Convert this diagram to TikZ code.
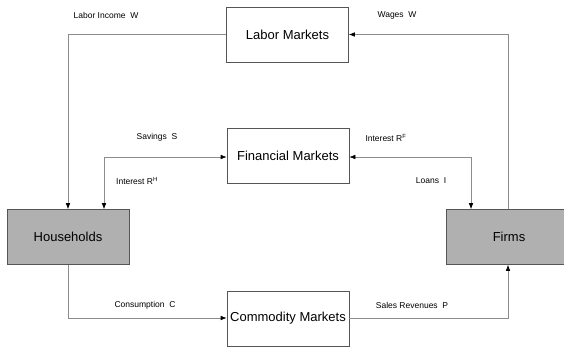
\documentclass[tikz,border=0pt]{standalone}
\usepackage{fontspec}
\setmainfont{Liberation Sans}
\usetikzlibrary{arrows.meta}
\definecolor{boxgray}{RGB}{176,176,176}
\definecolor{linegray}{RGB}{140,140,140}
\definecolor{edgegray}{RGB}{85,85,85}
\begin{document}
\begin{tikzpicture}[x=1pt,y=-1pt,
  market/.style={draw=edgegray, line width=0.6pt, fill=white, minimum width=122pt, minimum height=55pt, inner sep=0pt, font=\fontsize{13}{15}\selectfont},
  agent/.style={market, fill=boxgray},
  flow/.style={draw=linegray, line width=0.6pt},
  tipb/.style={-{Latex[length=6pt,width=4.5pt,black]}},
  both/.style={{Latex[length=6pt,width=4.5pt,black]}-{Latex[length=6pt,width=4.5pt,black]}},
  lab/.style={font=\fontsize{8.5}{10}\selectfont, inner sep=0pt}]
\useasboundingbox (0,0) rectangle (564,348);
\fill[white] (0,0) rectangle (564,348);
\node[market] (LM) at (287.5,34.5) {Labor Markets};
\node[market] (FM) at (288,155.5) {Financial Markets};
\node[market] (CM) at (288,318.5) {Commodity Markets};
\node[agent] (HH) at (68,237) {Households};
\node[agent, minimum width=126pt] (FI) at (509,237) {Firms};
\coordinate (c1) at (68,34.5);
\coordinate (c2) at (508,34.5);
\coordinate (c3) at (104,157);
\coordinate (c4) at (471,157);
\coordinate (c5) at (68,318);
\coordinate (c6) at (508,318);
\draw[flow,tipb] (LM.west |- c1) -- (c1) -- (c1 |- HH.north);
\draw[flow,tipb] (c2 |- FI.north) -- (c2) -- (LM.east |- c2);
\draw[flow,both] (c3 |- HH.north) -- (c3) -- (FM.west |- c3);
\draw[flow,both] (FM.east |- c4) -- (c4) -- (c4 |- FI.north);
\draw[flow,tipb] (c5 |- HH.south) -- (c5) -- (CM.west |- c5);
\draw[flow,tipb] (CM.east |- c6) -- (c6) -- (c6 |- FI.south);
\node[lab] (l1) at (106,15) {Labor Income\ \ W};
\node[lab] (l2) at (397,15) {Wages\ \ W};
\node[lab] (l3) at (157,137) {Savings\ \ S};
\node[lab] (l4) at (137,181) {Interest R$^{\mathrm{H}}$};
\node[lab] (l5) at (386,138) {Interest R$^{\mathrm{F}}$};
\node[lab] (l6) at (431,181) {Loans\ \ I};
\node[lab] (l7) at (145,305) {Consumption\ \ C};
\node[lab] (l8) at (412,305) {Sales Revenues\ \ P};
\end{tikzpicture}
\end{document}
